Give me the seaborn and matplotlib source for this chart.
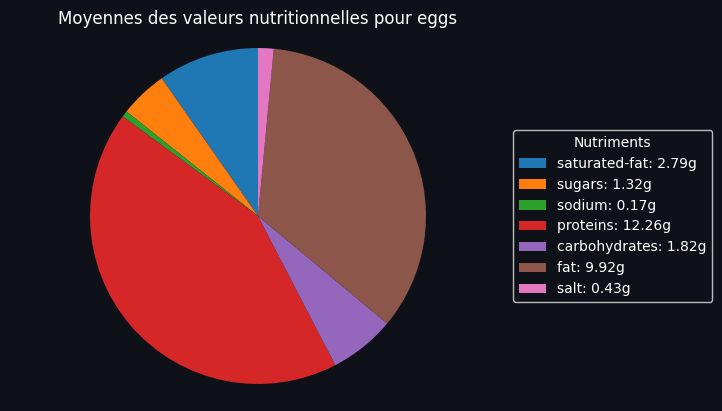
import matplotlib
matplotlib.use("Agg")
import matplotlib.pyplot as plt
import seaborn as sns

labels = ["saturated-fat", "sugars", "sodium", "proteins", "carbohydrates", "fat", "salt"]
values = [2.79, 1.32, 0.17, 12.26, 1.82, 9.92, 0.43]
title = "Moyennes des valeurs nutritionnelles pour eggs"
legend_title = "Nutriments"

sns.set_style("dark")
plt.rcParams["font.family"] = ["DejaVu Sans"]
plt.rcParams["patch.force_edgecolor"] = False
plt.rcParams["patch.edgecolor"] = "none"
bg = "#0e1117"
colors = sns.color_palette("tab10", len(values))

fig = plt.figure(figsize=(7.22, 4.11), dpi=100, facecolor=bg)
ax = fig.add_axes([90 / 722, (411 - 384) / 411, 336 / 722, 336 / 411])
ax.set_facecolor(bg)
wedges, _ = ax.pie(values, colors=colors, startangle=90, counterclock=True,
                   wedgeprops={"linewidth": 0, "edgecolor": "none"})
ax.set_xlim(-1, 1)
ax.set_ylim(-1, 1)
ax.set_aspect("equal")
ax.axis("off")

fig.text(258 / 722, 1 - 19 / 411, title, ha="center", va="center", fontsize=12, color="white")

leg_labels = [f"{l}: {v:.2f}g" for l, v in zip(labels, values)]
leg = fig.legend(wedges, leg_labels, title=legend_title, loc="center left",
                 bbox_to_anchor=(506 / 722, (411 - 216) / 411), fontsize=10, title_fontsize=10,
                 facecolor=bg, edgecolor="#bbbbbb", labelcolor="white", framealpha=1)
leg.get_title().set_color("white")

fig.savefig("out.png", dpi=100, facecolor=bg)
